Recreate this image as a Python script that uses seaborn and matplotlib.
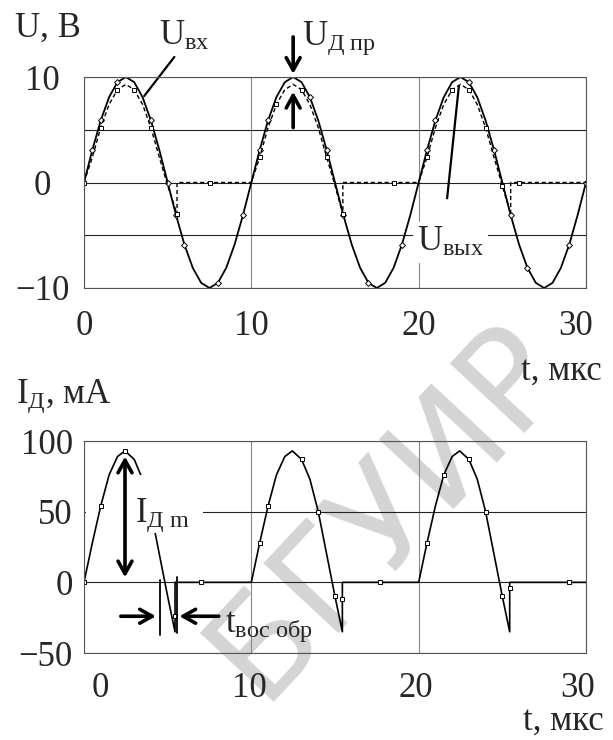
import matplotlib
matplotlib.use("Agg")
import matplotlib.pyplot as plt
import matplotlib.transforms as mtransforms
import seaborn as sns
import pandas as pd

# Входное напряжение (каждые 0.5 мкс)
t_u = [i * 0.5 for i in range(61)]
u_in = [0, 3.09, 5.88, 8.09, 9.51, 10, 9.51, 8.09, 5.88, 3.09,
        0, -3.09, -5.88, -8.09, -9.51, -10, -9.51, -8.09, -5.88, -3.09,
        0, 3.09, 5.88, 8.09, 9.51, 10, 9.51, 8.09, 5.88, 3.09,
        0, -3.09, -5.88, -8.09, -9.51, -10, -9.51, -8.09, -5.88, -3.09,
        0, 3.09, 5.88, 8.09, 9.51, 10, 9.51, 8.09, 5.88, 3.09,
        0, -3.09, -5.88, -8.09, -9.51, -10, -9.51, -8.09, -5.88, -3.09,
        0]

# Выходное напряжение
t_out = [0, 0.5, 1, 1.5, 2, 2.5, 3, 3.5, 4, 4.5, 5, 5.56, 5.56, 7.5,
         10, 10.5, 11, 11.5, 12, 12.5, 13, 13.5, 14, 14.5, 15, 15.47, 15.47, 18.5,
         20, 20.5, 21, 21.5, 22, 22.5, 23, 23.5, 24, 24.5, 25, 25.5, 25.5, 26, 30]
u_out = [0, 2.4, 5.2, 7.4, 8.8, 9.3, 8.8, 7.4, 5.2, 2.4, -0.3, -3.0, 0, 0,
         0, 2.4, 5.2, 7.4, 8.8, 9.3, 8.8, 7.4, 5.2, 2.4, -0.3, -3.0, 0, 0,
         0, 2.4, 5.2, 7.4, 8.8, 9.3, 8.8, 7.4, 5.2, 2.4, -0.3, -3.0, 0, 0, 0]

# Ток диода
t_i = [0, 0.5, 1, 1.5, 2, 2.45, 3, 3.5, 4, 4.5, 5, 5.44, 5.44, 5.44, 6.97,
       10, 10.5, 11, 11.5, 12, 12.45, 13, 13.5, 14, 14.5, 15, 15.44, 15.44, 15.44, 17.7,
       20, 20.5, 21, 21.5, 22, 22.45, 23, 23.5, 24, 24.5, 25, 25.44, 25.44, 25.44, 29.0, 30]
i_d = [0, 28, 54, 76, 89, 93, 87, 73, 50, 20, -10, -35, -24, 0, 0,
       0, 28, 54, 76, 89, 93, 87, 73, 50, 20, -10, -35, -12, 0, 0,
       0, 28, 54, 76, 89, 93, 87, 73, 50, 20, -10, -35, -4, 0, 0, 0]

u_ticks = [-10, -5, 0, 5, 10]
u_ticklabels = ["\u221210", "", "0", "", "10"]
i_ticks = [-50, 0, 50, 100]
i_ticklabels = ["\u221250", "0", "50", "100"]
t_ticks = [0, 10, 20, 30]
t_labels = ["0", "10", "20", "30"]
t_label_pos_top = [0, 10, 20, 29.4]
t_label_pos_bot = [0.95, 9.9, 19.8, 29.5]

sns.set_style("white")
plt.rcParams["font.family"] = ["Liberation Serif", "DejaVu Serif"]
plt.rcParams["mathtext.fontset"] = "custom"
plt.rcParams["mathtext.rm"] = "Liberation Serif"
plt.rcParams["mathtext.it"] = "Liberation Serif:italic"
FS = 25

fig = plt.figure(figsize=(6.13, 7.4), dpi=100)
ax1 = fig.add_axes([84 / 613, 1 - 288 / 740, 502 / 613, 211 / 740])
ax2 = fig.add_axes([84 / 613, 1 - 653 / 740, 502 / 613, 212 / 740])

# водяной знак (под графиками)
fig.text(0.63, 0.31, "БГУИР", rotation=47, fontsize=100, color="#d4d4d4",
         ha="center", va="center", family="DejaVu Sans", zorder=-1)

df_u = pd.DataFrame({"t": t_u, "u": u_in})
df_o = pd.DataFrame({"t": t_out, "u": u_out})
df_i = pd.DataFrame({"t": t_i, "i": i_d})

sns.lineplot(data=df_u, x="t", y="u", ax=ax1, estimator=None, sort=False,
             color="k", lw=1.3, marker="D", ms=3, mfc="white", mec="k", mew=0.7,
             markevery=[1, 2, 4, 8, 10, 11, 12, 16, 19, 21, 22, 27, 29, 31, 34,
                        38, 41, 42, 46, 49, 51, 53, 58, 60])
sns.lineplot(data=df_o, x="t", y="u", ax=ax1, estimator=None, sort=False,
             color="k", lw=1.0, ls=(0, (3, 2)), marker="s", ms=3.5, mfc="white",
             mec="k", mew=0.7,
             markevery=[0, 2, 4, 6, 8, 11, 13, 15, 17, 20, 23, 25, 27, 29, 32,
                        34, 36, 38, 41])
sns.lineplot(data=df_i, x="t", y="i", ax=ax2, estimator=None, sort=False,
             color="k", lw=1.2, marker="s", ms=3.5, mfc="white", mec="k", mew=0.7,
             markevery=[0, 2, 5, 12, 14, 16, 17, 21, 23, 25, 27, 29, 31, 33, 36,
                        38, 40, 42, 44])

for ax, yt, ytl in [(ax1, u_ticks, u_ticklabels), (ax2, i_ticks, i_ticklabels)]:
    ax.set_facecolor("none")
    ax.set_xlim(0, 30)
    ax.set_xticks(t_ticks)
    ax.set_xticklabels([])
    ax.set_yticks(yt)
    ax.set_yticklabels(ytl, fontsize=FS)
    ax.set_xlabel("")
    ax.set_ylabel("")
    ax.tick_params(length=0)
    ax.xaxis.grid(True, color="#888888", lw=0.8)
    ax.yaxis.grid(True, color="#222222", lw=0.8)
    for s in ax.spines.values():
        s.set_color("#555555")
        s.set_linewidth(0.8)
        s.set_visible(True)
    ax.set_axisbelow(True)

ax1.set_ylim(-10, 10)
ax2.set_ylim(-50, 100)
ax1.tick_params(axis="y", pad=30)
for lab in ax1.get_yticklabels():
    lab.set_ha("center")
ax2.tick_params(axis="y", pad=8)

tr1 = mtransforms.blended_transform_factory(ax1.transData, ax1.transAxes)
tr2 = mtransforms.blended_transform_factory(ax2.transData, ax2.transAxes)
for x, lab in zip(t_label_pos_top, t_labels):
    ax1.text(x, -0.105, lab, transform=tr1, ha="center", va="top", fontsize=FS)
for x, lab in zip(t_label_pos_bot, t_labels):
    ax2.text(x, -0.09, lab, transform=tr2, ha="center", va="top", fontsize=FS)

# подписи осей
fig.text(15 / 613, 1 - 37 / 740, "U, B", fontsize=FS, ha="left", va="baseline")
fig.text(602 / 613, 1 - 380 / 740, "t, мкс", fontsize=FS, ha="right", va="baseline")
fig.text(16 / 613, 1 - 403 / 740, r"I$_{\mathrm{Д}}$, мА", fontsize=FS,
         ha="left", va="baseline")
fig.text(604 / 613, 1 - 730 / 740, "t, мкс", fontsize=FS, ha="right", va="baseline")

arrow = dict(arrowstyle="->,head_length=0.45,head_width=0.25", lw=2.6, color="k",
             shrinkA=0, shrinkB=0, mutation_scale=20)

# верхний график: надписи
ax1.text(4.5, 13.0, r"U$_{\mathrm{вх}}$", fontsize=FS, ha="left", va="baseline",
         clip_on=False)
ax1.plot([5.4, 3.6], [11.9, 8.2], color="k", lw=1.6, clip_on=False)
ax1.text(13.0, 13.0, r"U$_{\mathrm{Д\ пр}}$", fontsize=FS, ha="left",
         va="baseline", clip_on=False)
ax1.annotate("", xy=(12.5, 10.3), xytext=(12.5, 13.8), arrowprops=arrow,
             annotation_clip=False)
ax1.annotate("", xy=(12.5, 8.6), xytext=(12.5, 5.2), arrowprops=arrow)
ax1.text(19.9, -6.5, r"U$_{\mathrm{вых}}$", fontsize=FS, ha="left", va="baseline",
         bbox=dict(fc="white", ec="none", pad=3), zorder=5)
ax1.plot([21.7, 22.4], [-1.5, 9.1], color="k", lw=1.6, zorder=6)

# нижний график: надписи
ax2.add_patch(plt.Rectangle((0.1, 46), 7.0, 8, fc="white", ec="none", zorder=1))
ax2.add_patch(plt.Rectangle((2.7, 35), 4.3, 41, fc="white", ec="none", zorder=4))
ax2.text(3.05, 43, r"I$_{\mathrm{Д\ m}}$", fontsize=FS, ha="left", va="baseline",
         zorder=5)
ax2.annotate("", xy=(2.45, 89), xytext=(2.45, 3.5),
             arrowprops=dict(arrow, arrowstyle="<->,head_length=0.45,head_width=0.25"),
             zorder=6)
ax2.plot([4.54, 4.54], [2, -37], color="k", lw=1.3)
ax2.plot([5.53, 5.53], [4, -36], color="k", lw=1.3)
ax2.annotate("", xy=(4.3, -24), xytext=(2.2, -24), arrowprops=arrow)
ax2.annotate("", xy=(5.7, -24), xytext=(8.05, -24), arrowprops=arrow)
ax2.text(8.4, -35, r"t$_{\mathrm{вос\ обр}}$", fontsize=FS, ha="left",
         va="baseline")

fig.savefig("out.png", dpi=100)
